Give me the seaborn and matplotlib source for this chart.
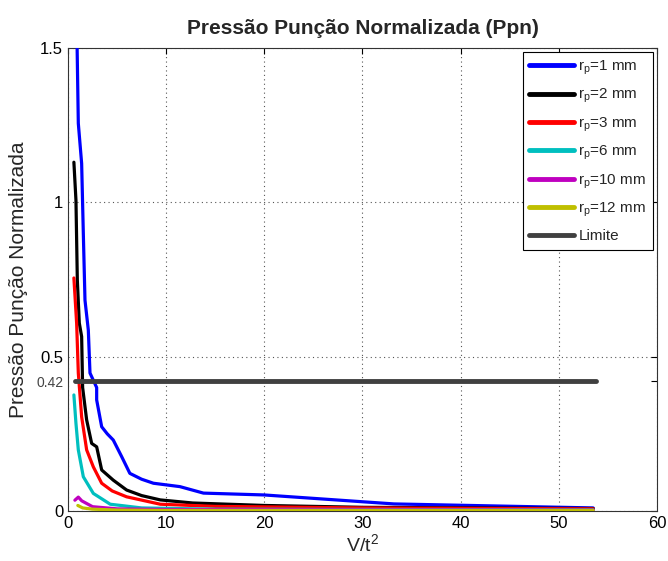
import numpy as np
import pandas as pd
import matplotlib
matplotlib.use("Agg")
import matplotlib.pyplot as plt
import seaborn as sns

# Normalised punch pressure versus V/t^2 for several punch radii
labels = ["r$_\\mathrm{p}$=1 mm", "r$_\\mathrm{p}$=2 mm", "r$_\\mathrm{p}$=3 mm",
          "r$_\\mathrm{p}$=6 mm", "r$_\\mathrm{p}$=10 mm", "r$_\\mathrm{p}$=12 mm"]
colors = ["#0000ff", "#000000", "#ff0000", "#00bfbf", "#bf00bf", "#bfbf00"]

x_r1 = [0.88, 1.05, 1.39, 1.56, 1.73, 2.07, 2.24, 2.92, 2.92, 3.43, 4.0, 4.61, 5.47, 6.3, 7.5, 8.7, 11.4, 13.8, 20.0, 30.0, 33.2, 53.5]
y_r1 = [1.60, 1.256, 1.126, 0.90, 0.683, 0.586, 0.447, 0.40, 0.36, 0.273, 0.25, 0.23, 0.176, 0.122, 0.103, 0.090, 0.079, 0.058, 0.052, 0.030, 0.023, 0.010]

x_r2 = [0.6, 0.81, 0.95, 1.15, 1.39, 1.49, 1.9, 2.41, 2.92, 3.43, 4.61, 5.97, 7.5, 9.4, 12.7, 20.0, 30.0, 53.5]
y_r2 = [1.13, 1.007, 0.748, 0.609, 0.565, 0.40, 0.295, 0.219, 0.208, 0.133, 0.10, 0.068, 0.050, 0.036, 0.026, 0.018, 0.012, 0.008]

x_r3 = [0.6, 0.88, 1.05, 1.39, 1.9, 2.58, 3.43, 4.5, 5.97, 9.4, 15.0, 30.0, 53.5]
y_r3 = [0.755, 0.608, 0.447, 0.305, 0.198, 0.143, 0.090, 0.065, 0.046, 0.022, 0.015, 0.010, 0.007]

x_r6 = [0.6, 0.81, 1.05, 1.56, 2.58, 4.3, 7.5, 15.0, 30.0, 53.5]
y_r6 = [0.376, 0.284, 0.198, 0.111, 0.057, 0.022, 0.010, 0.006, 0.005, 0.004]

x_r10 = [0.7, 1.05, 1.4, 2.5, 5.0, 10.0, 30.0, 53.5]
y_r10 = [0.035, 0.045, 0.033, 0.014, 0.007, 0.005, 0.004, 0.003]

x_r12 = [1.0, 1.5, 2.5, 5.0, 10.0, 30.0, 53.5]
y_r12 = [0.018, 0.010, 0.006, 0.003, 0.002, 0.002, 0.002]

x_lim = [0.7, 53.8]
y_lim = [0.42, 0.42]

series_x = [x_r1, x_r2, x_r3, x_r6, x_r10, x_r12]
series_y = [y_r1, y_r2, y_r3, y_r6, y_r10, y_r12]

sns.set_style("white")
plt.rcParams["font.family"] = ["Liberation Sans", "DejaVu Sans"]
plt.rcParams["mathtext.fontset"] = "custom"
plt.rcParams["mathtext.rm"] = "Liberation Sans"
plt.rcParams["mathtext.it"] = "Liberation Sans"

fig = plt.figure(figsize=(6.68, 5.61), dpi=100)
ax = fig.add_axes([0.1018, 0.0891, 0.8817, 0.8253])

for xs, ys, lab, col in zip(series_x, series_y, labels, colors):
    df = pd.DataFrame({"x": xs, "y": ys})
    sns.lineplot(data=df, x="x", y="y", sort=False, estimator=None,
                 color=col, linewidth=2.3, label=lab, ax=ax, zorder=3)

df_lim = pd.DataFrame({"x": x_lim, "y": y_lim})
sns.lineplot(data=df_lim, x="x", y="y", sort=False, estimator=None,
             color="#404040", linewidth=3.5, label="Limite", ax=ax, zorder=4)

ax.set_xlim(0, 60)
ax.set_ylim(0, 1.5)
ax.set_xticks([0, 10, 20, 30, 40, 50, 60])
ax.set_yticks([0, 0.42, 0.5, 1, 1.5])
ax.set_yticklabels(["0", "0.42", "0.5", "1", "1.5"])
ax.grid(True, linestyle=(0, (1, 3)), color="#555555", linewidth=0.8)
ax.tick_params(direction="in", top=True, right=True, length=4, labelsize=12,
               colors="black", width=0.8)
# the 0.42 reference level gets a smaller grey label and no grid line
for t in ax.get_yticklabels():
    if t.get_text() == "0.42":
        t.set_fontsize(10)
        t.set_color("#444444")
ax.yaxis.get_gridlines()[1].set_visible(False)
for s in ax.spines.values():
    s.set_color("#333333")
    s.set_linewidth(0.8)

ax.set_xlabel("V/t$^2$", fontsize=14, labelpad=2)
ax.set_ylabel("Pressão Punção Normalizada", fontsize=15, labelpad=6)
ax.set_title("Pressão Punção Normalizada (Ppn)", fontsize=15, fontweight="bold", pad=10)

leg = ax.legend(loc="upper right", fontsize=11, frameon=True, fancybox=False,
                edgecolor="black", handlelength=2.9, labelspacing=0.66,
                borderpad=0.45, handletextpad=0.3, framealpha=1,
                bbox_to_anchor=(1.0, 1.0), borderaxespad=0.25)
leg.get_frame().set_linewidth(0.8)
for line in leg.get_lines():
    line.set_linewidth(3.5)

fig.savefig("out.png", dpi=100)
